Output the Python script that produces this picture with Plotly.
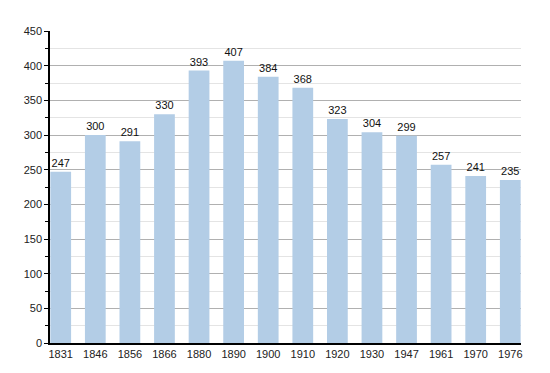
import plotly.graph_objects as go

years = ["1831", "1846", "1856", "1866", "1880", "1890", "1900", "1910", "1920", "1930", "1947", "1961", "1970", "1976"]
population = [247, 300, 291, 330, 393, 407, 384, 368, 323, 304, 299, 257, 241, 235]
y_ticks = [0, 50, 100, 150, 200, 250, 300, 350, 400, 450]

idx = list(range(len(years)))

fig = go.Figure()
fig.add_trace(go.Bar(
    x=idx, y=population, width=0.6,
    marker=dict(color="#b3cde6", line=dict(width=0)),
    text=[str(v) for v in population], textposition="outside",
    textfont=dict(family="Liberation Sans, Arial, sans-serif", size=11, color="#111"),
    cliponaxis=False,
))

# page body has an 8px default margin, so offsets are compensated
fig.update_layout(
    width=542, height=365,
    margin=dict(l=42, r=29, t=23, b=30),
    paper_bgcolor="white", plot_bgcolor="white",
    showlegend=False, bargap=0.4,
    font=dict(family="Liberation Sans, Arial, sans-serif", size=11, color="#222"),
    uniformtext=dict(minsize=11, mode="show"),
)
fig.update_xaxes(
    range=[-0.31, 13.31], tickvals=idx, ticktext=years,
    showline=True, linecolor="black", linewidth=1.5,
    showgrid=False, ticks="", zeroline=False,
    tickfont=dict(size=11, color="#222"),
)
fig.update_yaxes(
    range=[0, 450], tickvals=y_ticks,
    showline=True, linecolor="black", linewidth=1.5,
    showgrid=True, gridcolor="#b0b0b0", gridwidth=1,
    ticks="outside", ticklen=4, tickcolor="black",
    minor=dict(dtick=25, showgrid=True, gridcolor="#e4e4e4", ticks="outside", ticklen=3, tickcolor="black"),
    zeroline=False,
    tickfont=dict(size=11, color="#222"),
)

fig.write_html("out.html")
